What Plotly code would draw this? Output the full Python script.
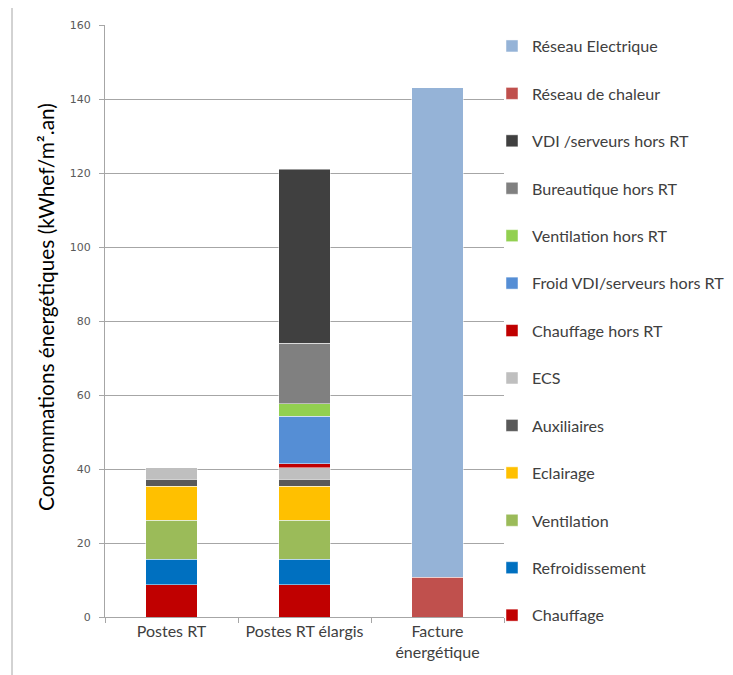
import plotly.graph_objects as go

categories = ["Postes RT", "Postes RT élargis", "Facture<br>énergétique"]

series_names = [
    "Chauffage", "Refroidissement", "Ventilation", "Eclairage", "Auxiliaires", "ECS",
    "Chauffage hors RT", "Froid VDI/serveurs hors RT", "Ventilation hors RT",
    "Bureautique hors RT", "VDI /serveurs hors RT", "Réseau de chaleur", "Réseau Electrique",
]

chauffage = [8.7, 8.7, None]
refroidissement = [6.9, 6.9, None]
ventilation = [10.6, 10.6, None]
eclairage = [9.1, 9.1, None]
auxiliaires = [1.9, 1.9, None]
ecs = [3.2, 3.2, None]
chauffage_hors_rt = [None, 1.0, None]
froid_vdi = [None, 12.8, None]
ventilation_hors_rt = [None, 3.4, None]
bureautique = [None, 16.4, None]
vdi_serveurs = [None, 47.0, None]
reseau_chaleur = [None, None, 10.7]
reseau_electrique = [None, None, 132.3]

values = [chauffage, refroidissement, ventilation, eclairage, auxiliaires, ecs,
          chauffage_hors_rt, froid_vdi, ventilation_hors_rt, bureautique, vdi_serveurs,
          reseau_chaleur, reseau_electrique]

colors = ["#C00000", "#0070C0", "#9BBB59", "#FFC000", "#595959", "#BFBFBF",
          "#C00000", "#558ED5", "#92D050", "#808080", "#404040", "#C0504D", "#95B3D7"]

y_title = "Consommations énergétiques (kWhef/m².an)"

fig = go.Figure()
n = len(series_names)
for i, (name, vals, col) in enumerate(zip(series_names, values, colors)):
    fig.add_trace(go.Bar(
        x=categories, y=vals, name=name, legendgroup=name,
        legendrank=n - i,
        marker=dict(color=col, line=dict(color="rgba(255,255,255,0.6)", width=0.8)),
        width=0.39,
    ))

# page body has an 8px offset; the margins compensate so the plot area sits at
# x 105..504, y 25..617 of the window
OFF = 8
W, H = 733, 675
L, R, T, B = 105 - OFF, 229 + OFF, 25 - OFF, 58 + OFF
PW, PH = W - L - R, H - T - B


def px_x(x):
    return (x - OFF - L) / PW


def px_y(y):
    return (H - B - (y - OFF)) / PH


fig.update_layout(
    width=W, height=H,
    barmode="stack",
    margin=dict(l=L, r=R, t=T, b=B, pad=0, autoexpand=False),
    paper_bgcolor="white", plot_bgcolor="white",
    font=dict(family="Lato", color="#404040", size=16),
    showlegend=True,
    legend=dict(
        traceorder="grouped", tracegroupgap=23.5,
        xref="container", yref="container",
        x=(492 - OFF) / W, xanchor="left",
        y=1 - (29 - OFF) / H, yanchor="top",
        font=dict(family="Lato", size=16.1, color="#404040"),
        itemwidth=30, bgcolor="rgba(0,0,0,0)", maxheight=900,
    ),
    xaxis=dict(
        showline=True, linecolor="#A6A6A6", linewidth=1,
        ticks="outside", tickson="boundaries", ticklen=5, tickcolor="#A6A6A6",
        tickfont=dict(family="Lato", size=16, color="#404040"),
        showgrid=False, automargin=False,
    ),
    yaxis=dict(
        range=[0, 160], dtick=20,
        showline=True, linecolor="#A6A6A6", linewidth=1,
        ticks="outside", ticklen=5, tickcolor="#A6A6A6",
        showgrid=True, gridcolor="#A6A6A6", gridwidth=1,
        tickfont=dict(family="DejaVu Sans", size=11, color="#595959"),
        ticklabelstandoff=6,
        zeroline=False, automargin=False,
    ),
    annotations=[
        dict(text=y_title, xref="paper", yref="paper",
             x=px_x(45), y=px_y(307), xanchor="center", yanchor="middle",
             textangle=-90, showarrow=False,
             font=dict(family="Lato", size=20.8, color="#000000")),
    ],
    shapes=[
        dict(type="line", xref="paper", yref="paper",
             x0=px_x(12), x1=px_x(12), y0=px_y(7), y1=px_y(700),
             line=dict(color="#A6A6A6", width=1)),
        dict(type="line", xref="paper", yref="paper",
             x0=px_x(12), x1=px_x(760), y0=px_y(7), y1=px_y(7),
             line=dict(color="#A6A6A6", width=1)),
    ],
)

fig.write_html("out.html")
